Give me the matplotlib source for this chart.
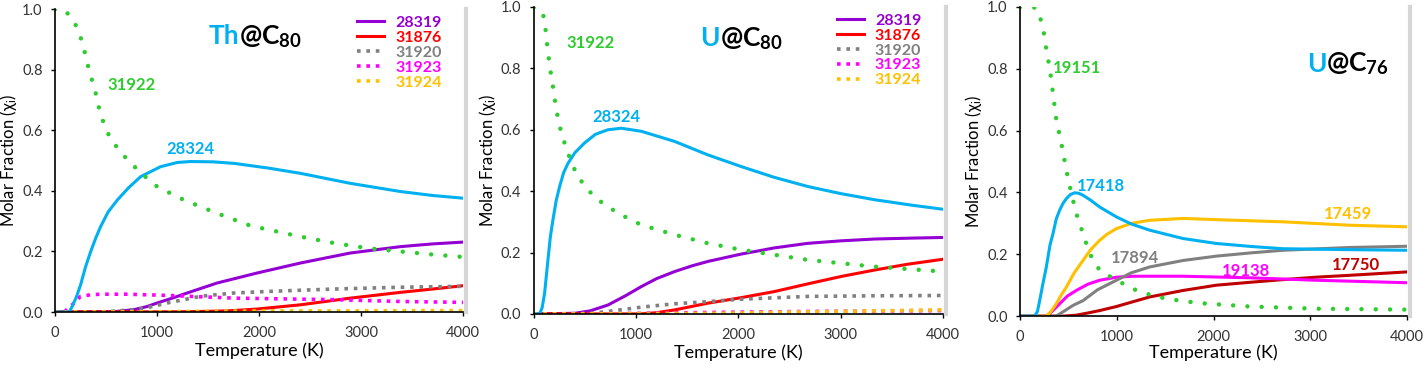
import numpy as np
import matplotlib
matplotlib.use("Agg")
import matplotlib.pyplot as plt

plt.rcParams['font.family'] = ['Lato', 'DejaVu Sans']
plt.rcParams['mathtext.fontset'] = 'custom'
plt.rcParams['mathtext.rm'] = 'Lato'
plt.rcParams['mathtext.bf'] = 'Lato:bold'
plt.rcParams['mathtext.it'] = 'Lato:italic'

CYAN = '#00B0F0'
PURPLE = '#9400D3'
RED = '#FF0000'
GRAY = '#808080'
MAGENTA = '#FF00FF'
ORANGE = '#FFC000'
GREEN = '#2ECC2E'
DARKRED = '#C00000'

# ---- Th@C80 ----
th_31922_T = [0, 100, 200, 270, 310, 350, 392, 447, 545, 692, 839, 1002, 1264, 1590, 1917, 2407, 2733, 3060, 3386, 3700, 4000]
th_31922_x = [1.0, 0.997, 0.95, 0.89, 0.83, 0.78, 0.733, 0.65, 0.57, 0.51, 0.46, 0.414, 0.37, 0.326, 0.285, 0.249, 0.228, 0.211, 0.2, 0.19, 0.182]
th_28324_T = [0, 140, 170, 210, 251, 300, 350, 400, 447, 520, 611, 720, 839, 1035, 1200, 1329, 1550, 1754, 2100, 2407, 2896, 3386, 3700, 4000]
th_28324_x = [0, 0, 0.02, 0.05, 0.09, 0.15, 0.2, 0.245, 0.282, 0.33, 0.37, 0.41, 0.447, 0.48, 0.494, 0.497, 0.496, 0.491, 0.475, 0.458, 0.425, 0.398, 0.385, 0.376]
th_28319_T = [0, 600, 774, 900, 1002, 1150, 1296, 1590, 1982, 2407, 2896, 3386, 3700, 4000]
th_28319_x = [0, 0.002, 0.008, 0.018, 0.03, 0.046, 0.063, 0.096, 0.129, 0.162, 0.195, 0.216, 0.225, 0.231]
th_31876_T = [0, 1300, 1700, 1982, 2407, 2896, 3386, 3700, 4000]
th_31876_x = [0, 0.001, 0.004, 0.01, 0.024, 0.046, 0.065, 0.076, 0.087]
th_31920_T = [0, 500, 774, 950, 1100, 1427, 1753, 2080, 2733, 3386, 4000]
th_31920_x = [0, 0.001, 0.008, 0.018, 0.03, 0.052, 0.063, 0.068, 0.076, 0.082, 0.085]
th_31923_T = [0, 100, 170, 251, 350, 447, 708, 1100, 1754, 2733, 3386, 4000]
th_31923_x = [0, 0.003, 0.024, 0.052, 0.057, 0.059, 0.059, 0.055, 0.046, 0.041, 0.035, 0.032]
th_31924_T = [0, 1000, 1600, 2500, 4000]
th_31924_x = [0, 0.001, 0.003, 0.004, 0.005]

# ---- U@C80 ----
u80_31922_T = [0, 72, 104, 121, 153, 186, 218, 267, 332, 398, 495, 626, 822, 1050, 1376, 1702, 2028, 2680, 3332, 4000]
u80_31922_x = [1.0, 0.99, 0.96, 0.9, 0.81, 0.74, 0.665, 0.59, 0.524, 0.47, 0.415, 0.372, 0.328, 0.29, 0.258, 0.23, 0.209, 0.176, 0.154, 0.138]
u80_28324_T = [0, 55, 80, 104, 137, 160, 186, 218, 251, 290, 332, 400, 495, 600, 724, 854, 1050, 1376, 1702, 2028, 2350, 2680, 3000, 3332, 3700, 4000]
u80_28324_x = [0, 0, 0.02, 0.067, 0.176, 0.25, 0.307, 0.37, 0.415, 0.46, 0.49, 0.525, 0.557, 0.585, 0.6, 0.605, 0.595, 0.562, 0.518, 0.48, 0.445, 0.415, 0.392, 0.372, 0.354, 0.341]
u80_28319_T = [0, 400, 550, 724, 900, 1050, 1200, 1376, 1550, 1702, 2028, 2350, 2680, 3000, 3332, 3700, 4000]
u80_28319_x = [0, 0.002, 0.01, 0.029, 0.06, 0.089, 0.115, 0.138, 0.157, 0.171, 0.195, 0.215, 0.23, 0.238, 0.244, 0.247, 0.249]
u80_31876_T = [0, 1050, 1200, 1376, 1702, 2028, 2354, 2680, 3005, 3332, 3658, 4000]
u80_31876_x = [0, 0, 0.004, 0.013, 0.035, 0.053, 0.073, 0.098, 0.122, 0.143, 0.162, 0.178]
u80_31920_T = [0, 350, 561, 724, 1050, 1376, 1702, 2028, 2680, 3332, 4000]
u80_31920_x = [0, 0, 0.002, 0.008, 0.022, 0.033, 0.04, 0.048, 0.057, 0.059, 0.06]
u80_31923_T = [0, 800, 1500, 2680, 4000]
u80_31923_x = [0, 0.001, 0.004, 0.008, 0.011]
u80_31924_T = [0, 1000, 1800, 2500, 3332, 4000]
u80_31924_x = [0, 0.001, 0.002, 0.006, 0.01, 0.013]

# ---- U@C76 ----
u76_19151_T = [0, 150, 186, 238, 272, 307, 341, 375, 427, 479, 530, 582, 651, 720, 823, 996, 1237, 1513, 1857, 2374, 3063, 4000]
u76_19151_x = [1.0, 0.998, 0.99, 0.932, 0.862, 0.802, 0.72, 0.635, 0.559, 0.472, 0.397, 0.332, 0.267, 0.202, 0.148, 0.116, 0.078, 0.056, 0.042, 0.031, 0.024, 0.021]
u76_17418_T = [0, 152, 180, 203, 240, 272, 310, 341, 375, 410, 445, 479, 520, 565, 610, 651, 730, 823, 996, 1150, 1340, 1685, 2029, 2400, 2718, 3407, 4000]
u76_17418_x = [0, 0, 0.015, 0.05, 0.11, 0.159, 0.23, 0.267, 0.315, 0.343, 0.365, 0.38, 0.393, 0.399, 0.397, 0.391, 0.375, 0.353, 0.321, 0.298, 0.278, 0.251, 0.235, 0.225, 0.218, 0.215, 0.213]
u76_17459_T = [0, 272, 320, 375, 420, 479, 560, 651, 730, 823, 900, 996, 1150, 1340, 1685, 2029, 2718, 3407, 4000]
u76_17459_x = [0, 0, 0.015, 0.04, 0.065, 0.094, 0.14, 0.18, 0.215, 0.245, 0.265, 0.283, 0.3, 0.31, 0.316, 0.312, 0.305, 0.294, 0.289]
u76_17894_T = [0, 375, 450, 550, 651, 800, 996, 1150, 1340, 1685, 2029, 2400, 2718, 3407, 4000]
u76_17894_x = [0, 0, 0.015, 0.035, 0.05, 0.085, 0.116, 0.14, 0.159, 0.18, 0.194, 0.205, 0.213, 0.222, 0.226]
u76_19138_T = [0, 272, 330, 410, 490, 582, 700, 823, 1000, 1168, 1685, 2374, 3063, 4000]
u76_19138_x = [0, 0, 0.015, 0.04, 0.065, 0.083, 0.103, 0.116, 0.126, 0.129, 0.129, 0.124, 0.116, 0.108]
u76_17750_T = [0, 450, 582, 700, 823, 996, 1150, 1340, 1685, 2029, 2400, 2718, 3063, 3407, 4000]
u76_17750_x = [0, 0, 0.003, 0.01, 0.018, 0.031, 0.045, 0.062, 0.083, 0.1, 0.11, 0.118, 0.126, 0.132, 0.143]

legend_ids = ['28319', '31876', '31920', '31923', '31924']

fig = plt.figure(figsize=(14.25, 3.68), dpi=100)
ax1 = fig.add_axes([0.0386, 0.152, 0.2863, 0.823])
ax2 = fig.add_axes([0.3747, 0.147, 0.287, 0.834])
ax3 = fig.add_axes([0.7158, 0.141, 0.2716, 0.840])

big_dot = dict(linestyle=(0, (0.01, 3.2)), dash_capstyle='round', linewidth=3.2)
small_dot = dict(linestyle=(0, (1, 1.6)), linewidth=2.6)
solid = dict(linewidth=2.2, solid_joinstyle='round')


def style(ax):
    ax.set_xlim(0, 4000)
    ax.set_ylim(0, 1.0)
    ax.set_xticks([0, 1000, 2000, 3000, 4000])
    ax.set_yticks(np.arange(0, 1.01, 0.2))
    ax.set_yticklabels(['%.1f' % v for v in np.arange(0, 1.01, 0.2)])
    ax.spines['top'].set_visible(False)
    ax.spines['right'].set_color('#d5d5d5')
    ax.spines['right'].set_linewidth(3)
    ax.spines['right'].set_position(('outward', 2))
    ax.spines['left'].set_linewidth(1.2)
    ax.spines['bottom'].set_linewidth(1.2)
    ax.tick_params(direction='out', length=3, width=1, labelsize=10.5, colors='black', labelcolor='#333333')
    ax.tick_params(axis='x', pad=7)
    ax.tick_params(axis='y', pad=6)
    ax.set_xlabel('Temperature (K)', fontsize=13, labelpad=2)
    ax.set_ylabel('Molar Fraction (χ$_\\mathrm{i}$)', fontsize=12, labelpad=2)


def title(ax, x, y, metal, cage):
    ax.text(x, y, metal, ha='right', va='baseline', color=CYAN, fontsize=19, fontweight='bold')
    ax.text(x, y, '@C$_\\mathbf{%s}$' % cage, ha='left', va='baseline', color='black', fontsize=19, fontweight='bold')


def label(ax, x, y, s, c):
    ax.text(x, y, s, ha='center', va='center', color=c, fontsize=12, fontweight='bold')


def c80_legend(ax):
    ax.legend(loc='upper right', bbox_to_anchor=(0.963, 1.0), frameon=False, labelcolor='linecolor',
              prop={'weight': 'bold', 'size': 11.5}, labelspacing=0.05, handlelength=1.7,
              handletextpad=0.7, borderaxespad=0)


# Th@C80
ax1.plot(th_28319_T, th_28319_x, color=PURPLE, label=legend_ids[0], **solid)
ax1.plot(th_31876_T, th_31876_x, color=RED, label=legend_ids[1], **solid)
ax1.plot(th_31920_T, th_31920_x, color=GRAY, label=legend_ids[2], **small_dot)
ax1.plot(th_31923_T, th_31923_x, color=MAGENTA, label=legend_ids[3], **small_dot)
ax1.plot(th_31924_T, th_31924_x, color=ORANGE, label=legend_ids[4], **small_dot)
ax1.plot(th_28324_T, th_28324_x, color=CYAN, **solid)
ax1.plot(th_31922_T, th_31922_x, color=GREEN, **big_dot)
style(ax1)
c80_legend(ax1)
title(ax1, 1802, 0.884, 'Th', '80')
label(ax1, 750, 0.75, '31922', GREEN)
label(ax1, 1329, 0.54, '28324', CYAN)

# U@C80
ax2.plot(u80_28319_T, u80_28319_x, color=PURPLE, label=legend_ids[0], **solid)
ax2.plot(u80_31876_T, u80_31876_x, color=RED, label=legend_ids[1], **solid)
ax2.plot(u80_31920_T, u80_31920_x, color=GRAY, label=legend_ids[2], **small_dot)
ax2.plot(u80_31923_T, u80_31923_x, color=MAGENTA, label=legend_ids[3], **small_dot)
ax2.plot(u80_31924_T, u80_31924_x, color=ORANGE, label=legend_ids[4], **small_dot)
ax2.plot(u80_28324_T, u80_28324_x, color=CYAN, **solid)
ax2.plot(u80_31922_T, u80_31922_x, color=GREEN, **big_dot)
style(ax2)
c80_legend(ax2)
title(ax2, 1816, 0.872, 'U', '80')
label(ax2, 551, 0.883, '31922', GREEN)
label(ax2, 805, 0.643, '28324', CYAN)

# U@C76
ax3.plot(u76_17750_T, u76_17750_x, color=DARKRED, **solid)
ax3.plot(u76_19138_T, u76_19138_x, color=MAGENTA, **solid)
ax3.plot(u76_17894_T, u76_17894_x, color=GRAY, **solid)
ax3.plot(u76_17459_T, u76_17459_x, color=ORANGE, **solid)
ax3.plot(u76_17418_T, u76_17418_x, color=CYAN, **solid)
ax3.plot(u76_19151_T, u76_19151_x, color=GREEN, **big_dot)
style(ax3)
ax3.xaxis.labelpad = 0
title(ax3, 3166, 0.791, 'U', '76')
label(ax3, 593, 0.802, '19151', GREEN)
label(ax3, 841, 0.42, '17418', CYAN)
label(ax3, 3390, 0.329, '17459', ORANGE)
label(ax3, 1192, 0.188, '17894', GRAY)
label(ax3, 2336, 0.146, '19138', MAGENTA)
label(ax3, 3476, 0.166, '17750', DARKRED)

fig.savefig('out.png', dpi=100)
